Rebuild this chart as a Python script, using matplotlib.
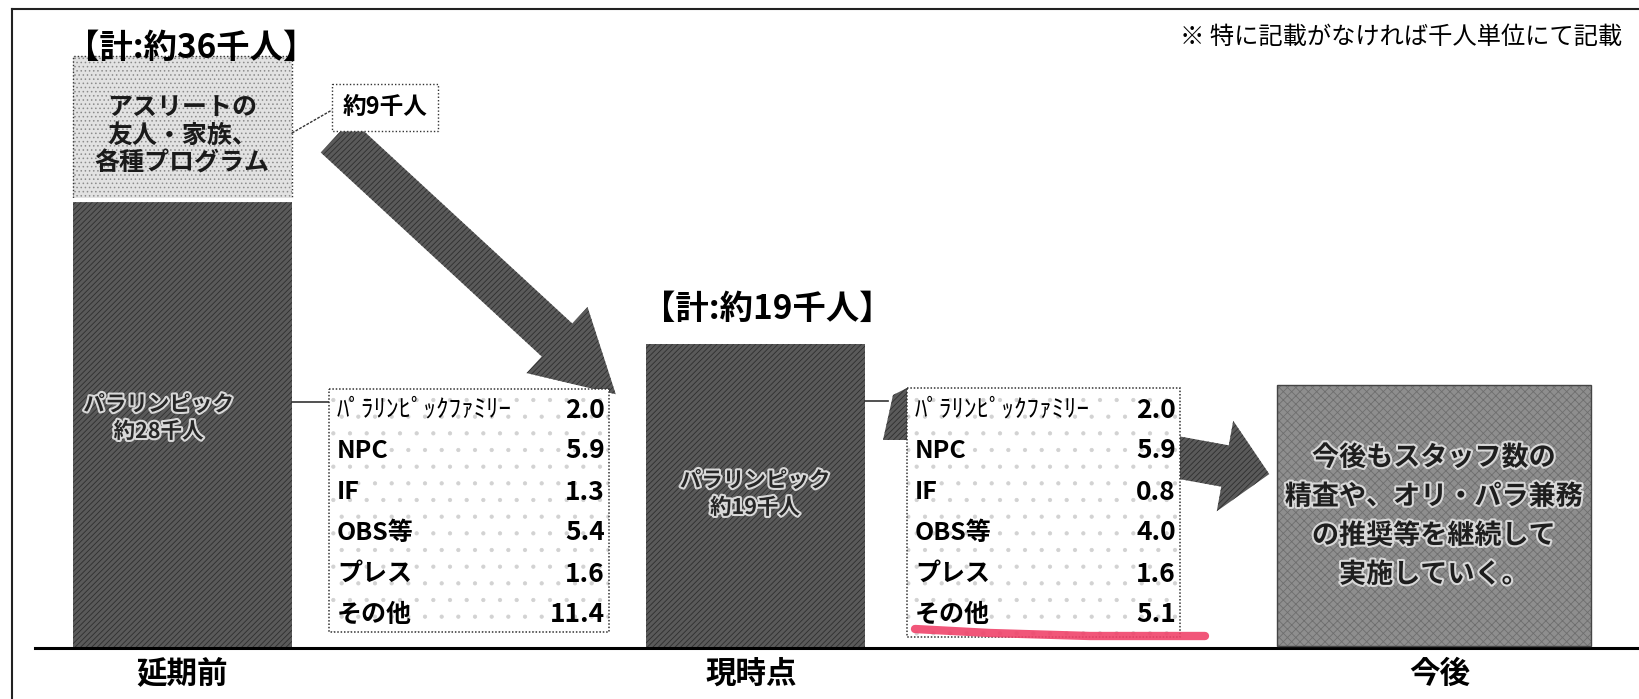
import matplotlib
matplotlib.use('Agg')
import matplotlib.pyplot as plt
from matplotlib.patches import Rectangle, FancyArrow, Polygon
import matplotlib.patheffects as pe

plt.rcParams['font.family'] = ['Noto Sans CJK JP', 'DejaVu Sans']
plt.rcParams['hatch.linewidth'] = 0.6

# ---------------------------------------------------------------
# データ（千人）
# ---------------------------------------------------------------
phases = ['延期前', '現時点', '今後']
para_totals = [28, 19]          # パラリンピック
extra_before = 9                # アスリートの友人・家族、各種プログラム
grand_totals = [36, 19]
breakdown_labels = ['ﾊﾟﾗﾘﾝﾋﾟｯｸﾌｧﾐﾘｰ', 'NPC', 'IF', 'OBS等', 'プレス', 'その他']
before_vals = [2.0, 5.9, 1.3, 5.4, 1.6, 11.4]
now_vals = [2.0, 5.9, 0.8, 4.0, 1.6, 5.1]
extra_label = 'アスリートの\n友人・家族、\n各種プログラム'
future_text = '今後もスタッフ数の\n精査や、オリ・パラ兼務\nの推奨等を継続して\n実施していく。'
note = '※ 特に記載がなければ千人単位にて記載'

# ---------------------------------------------------------------
# レイアウト（ピクセル）
# ---------------------------------------------------------------
W, H = 1639, 699
BASE = 648      # 基準線の位置
PX = 16.0       # 千人あたりのピクセル
bar_x = [182.5, 755]
bar_w = 219

DARK = '#5a5a5a'
DARK_H = '#2e2e2e'

fig = plt.figure(figsize=(W / 100, H / 100), dpi=100)

# データ用の軸（y = 千人）
ax = fig.add_axes([0, 0, 1, 1])
ax.set_xlim(0, W)
ax.set_ylim(-(H - BASE) / PX, BASE / PX)
ax.axis('off')

# 注記・矢印などの配置用（ピクセル座標）
lay = fig.add_axes([0, 0, 1, 1], label='layout')
lay.set_xlim(0, W)
lay.set_ylim(H, 0)
lay.axis('off')
lay.patch.set_alpha(0)

# --- 棒 ---
ax.bar(bar_x, para_totals, width=bar_w, color=DARK, hatch='//////',
       edgecolor=DARK_H, linewidth=0, zorder=2)
ax.bar(bar_x[0], extra_before, bottom=para_totals[0], width=bar_w,
       color='#e2e2e2', hatch='....', edgecolor='#8c8c8c', linewidth=0, zorder=2)
ax.bar(bar_x[0], extra_before, bottom=para_totals[0], width=bar_w, fill=False,
       edgecolor='#333333', linestyle=(0, (1, 1.5)), linewidth=1, zorder=3)
ax.plot([bar_x[0] - bar_w / 2, bar_x[0] + bar_w / 2], [para_totals[0]] * 2,
        color='white', lw=3, zorder=3)
ax.axhline(0, xmin=35 / W, xmax=1, color='black', lw=2.2, zorder=5)

bold = dict(fontweight='bold')
emboss = [pe.withStroke(linewidth=3, foreground='#d8d8d8')]

for i, x in enumerate(bar_x):
    lay.text(x - 24 if i == 0 else x, 418 if i == 0 else 494,
             f'パラリンピック\n約{para_totals[i]}千人', ha='center', va='center',
             fontsize=15.5, color='#262626', linespacing=1.35,
             path_effects=emboss, zorder=6, **bold)

lay.text(182, 136, extra_label, ha='center', va='center', fontsize=18,
         color='#1a1a1a', linespacing=1.2, zorder=6, **bold)

# 合計
lay.text(66, 48, f'【計:約{grand_totals[0]}千人】', ha='left', va='center',
         fontsize=24, zorder=6, **bold)
lay.text(642, 309, f'【計:約{grand_totals[1]}千人】', ha='left', va='center',
         fontsize=24, zorder=6, **bold)

# 注記
lay.text(1180, 37, note, ha='left', va='center', fontsize=17.5)

# 約9千人
lay.add_patch(Rectangle((332, 84), 106, 47, facecolor='white', edgecolor='#333333',
                        linestyle=(0, (1, 1.5)), linewidth=1, zorder=4))
lay.text(385, 107, f'約{extra_before}千人', ha='center', va='center',
         fontsize=17, zorder=6, **bold)
lay.plot([292, 332], [133, 110], color='#333333', lw=1, ls=(0, (2, 1)), zorder=4)

# 矢印
lay.add_patch(FancyArrow(336, 136, 281 - 60, 259 - 55, width=45, head_width=90,
                         head_length=80, length_includes_head=False,
                         facecolor=DARK, hatch='//////', edgecolor=DARK_H,
                         linewidth=0, zorder=2))
lay.add_patch(FancyArrow(1170, 456, 55, 10, width=42, head_width=92,
                         head_length=45, facecolor=DARK, hatch='//////',
                         edgecolor=DARK_H, linewidth=0, zorder=2))
lay.add_patch(Polygon([(883, 440), (893, 395), (907, 388), (907, 440)],
                      facecolor=DARK, hatch='//////', edgecolor=DARK_H,
                      linewidth=0, zorder=2))


# 内訳表
def draw_table(x0, y0, x1, y1, vals):
    lay.add_patch(Rectangle((x0, y0), x1 - x0, y1 - y0, facecolor='white',
                            hatch='.', edgecolor='#d2d2d2', linewidth=0, zorder=3))
    lay.add_patch(Rectangle((x0, y0), x1 - x0, y1 - y0, fill=False,
                            edgecolor='#333333', linestyle=(0, (1, 1.2)),
                            linewidth=1.1, zorder=4))
    for i, (lab, v) in enumerate(zip(breakdown_labels, vals)):
        y = 410 + i * 41
        if i == 0:
            lay.text(x0 + 8, y, lab, ha='left', va='center', fontsize=18,
                     zorder=6)
        else:
            lay.text(x0 + 8, y, lab, ha='left', va='center', fontsize=18,
                     zorder=6, **bold)
        lay.text(x1 - 4, y, f'{v:.1f}', ha='right', va='center', fontsize=19,
                 zorder=6, **bold)


draw_table(329, 389, 609, 632, before_vals)
draw_table(907, 388, 1180, 637, now_vals)

lay.plot([292, 329], [402, 402], color='#333333', lw=1.2, zorder=2)
lay.plot([865, 888], [401, 401], color='#333333', lw=1.2, zorder=2)

# 赤線
lay.plot([915, 990, 1090, 1205], [629, 633, 636, 636], color='#f0436a',
         lw=6, alpha=0.9, solid_capstyle='round', zorder=7)

# 今後
lay.add_patch(Rectangle((1277, 385), 314, 261, facecolor='#8e8e8e', hatch='xxxx',
                        edgecolor='#6e6e6e', linewidth=0, zorder=2))
lay.add_patch(Rectangle((1277, 385), 314, 261, fill=False, edgecolor='#444444',
                        linewidth=1, zorder=3))
lay.text(1434, 516, future_text, ha='center', va='center', fontsize=19.5,
         color='#1e1e1e', linespacing=1.5, path_effects=emboss, zorder=6, **bold)

# 区分
for x, p in zip([182, 751, 1440], phases):
    lay.text(x, 674, p, ha='center', va='center', fontsize=22, **bold)

# 外枠
lay.plot([12, W], [9, 9], color='#222222', lw=1.5)
lay.plot([12, 12], [9, H], color='#222222', lw=1.5)

fig.savefig('out.png', dpi=100)
